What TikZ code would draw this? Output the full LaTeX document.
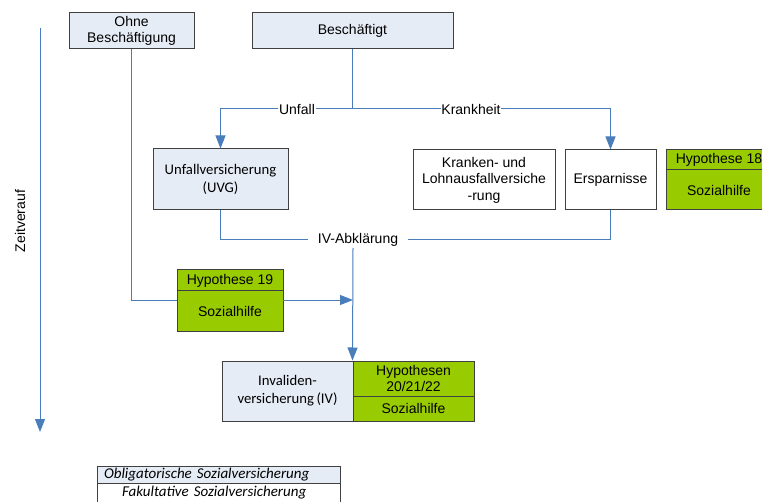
\documentclass[tikz,border=0pt]{standalone}
\usepackage{fontspec}
\setmainfont{Liberation Sans}
\newfontfamily\calfont{Carlito}
\usetikzlibrary{arrows.meta}
\definecolor{connblue}{HTML}{4A7EBB}
\definecolor{lightfill}{HTML}{E6ECF6}
\definecolor{boxborder}{HTML}{404040}
\definecolor{hypgreen}{HTML}{99CC00}
\tikzset{
  box/.style={draw=boxborder, line width=1pt, rectangle, align=center, inner sep=0pt,
    font=\fontsize{14}{16.5}\selectfont},
  bluebox/.style={box, fill=lightfill},
  whitebox/.style={box, fill=white},
  greenbox/.style={box, fill=hypgreen},
  calbox/.style={font=\calfont\fontsize{14.7}{18}\selectfont},
  legfont/.style={font=\calfont\itshape\fontsize{15}{16}\selectfont},
  link/.style={draw=connblue, line width=1pt},
  arr/.style={link, -{Triangle[length=13pt,width=10pt]}},
  lbl/.style={fill=white, inner sep=0.5pt, font=\fontsize{14}{16}\selectfont},
}
\begin{document}
\begin{tikzpicture}[x=1pt,y=-1pt]
\useasboundingbox (0,0) rectangle (762,502);

% boxes
\node[bluebox, minimum width=125pt, minimum height=36pt] (ohne) at (131.5,31) {Ohne\\Beschäftigung};
\node[bluebox, minimum width=201pt, minimum height=36pt] (besch) at (352.5,31) {Beschäftigt};
\node[bluebox, calbox, minimum width=135pt, minimum height=61pt] (unfv) at (220.5,179.5) {Unfallversicherung\\(UVG)};
\node[whitebox, minimum width=142pt, minimum height=60pt] (krank) at (484,180) {Kranken- und\\Lohnausfallversiche\\-rung};
\node[whitebox, minimum width=91pt, minimum height=60pt] (ersp) at (610.5,180) {Ersparnisse};
\node[greenbox, minimum width=106pt, minimum height=20pt] (h18a) at (719,160) {Hypothese 18};
\node[greenbox, minimum width=106pt, minimum height=40pt] (h18b) at (719,190) {Sozialhilfe};
\node[greenbox, minimum width=106pt, minimum height=21pt] (h19a) at (230,280.5) {Hypothese 19};
\node[greenbox, minimum width=106pt, minimum height=40pt] (h19b) at (230,311) {Sozialhilfe};
\node[bluebox, calbox, minimum width=131pt, minimum height=60pt] (inv) at (287.5,391) {Invaliden-\\versicherung\,(IV)};
\node[greenbox, minimum width=121pt, minimum height=35pt] (h20a) at (413.5,378.5) {Hypothesen\\20/21/22};
\node[greenbox, minimum width=121pt, minimum height=25pt] (h20b) at (413.5,408.5) {Sozialhilfe};

% legend
\node[box, fill=lightfill, legfont,
      minimum width=243pt, minimum height=17pt, text width=229pt, align=left, inner xsep=7pt] (leg1) at (218.5,474.5) {Obligatorische Sozialversicherung};
\node[box, fill=white, legfont,
      minimum width=243pt, minimum height=20pt, text width=229pt, align=left, inner xsep=7pt] (leg2) at (218.5,493) {\hspace*{18pt}Fakultative Sozialversicherung};

% time axis
\coordinate (t0) at (40,28);
\coordinate (t1) at (40,432);
\draw[arr] (t0) -- (t1);
\node[rotate=90, font=\fontsize{14}{16}\selectfont] (zeit) at (20,221) {Zeitverauf};

% split from Beschaeftigt
\coordinate (split) at (352.5,109);
\node[lbl] (unfall) at (297,109) {Unfall};
\node[lbl] (krankh) at (471,109) {Krankheit};
\coordinate (uc) at (220.5,109);
\coordinate (kc) at (610.5,109);
\draw[link] (besch.south) -- (split);
\draw[link] (split) -- (unfall.east);
\draw[arr] (unfall.west) -- (uc) -- (unfv.north);
\draw[link] (split) -- (krankh.west);
\draw[arr] (krankh.east) -- (kc) -- (ersp.north);

% IV-Abklaerung
\node[fill=white, inner xsep=10pt, inner ysep=2pt, font=\fontsize{14}{16}\selectfont] (ivl) at (358,240) {IV-Abklärung};
\draw[link] (unfv.south) |- (ivl.west);
\draw[link] (ersp.south) |- (ivl.east);
\coordinate (ivs) at (353,248);
\draw[arr] (ivs) -- (h20a.north west);

% Ohne Beschaeftigung path
\coordinate (h19in) at (177,300);
\coordinate (h19out) at (283,300);
\coordinate (ivtip) at (353,300);
\draw[link] (ohne.south) |- (h19in);
\draw[arr] (h19out) -- (ivtip);
\end{tikzpicture}
\end{document}
